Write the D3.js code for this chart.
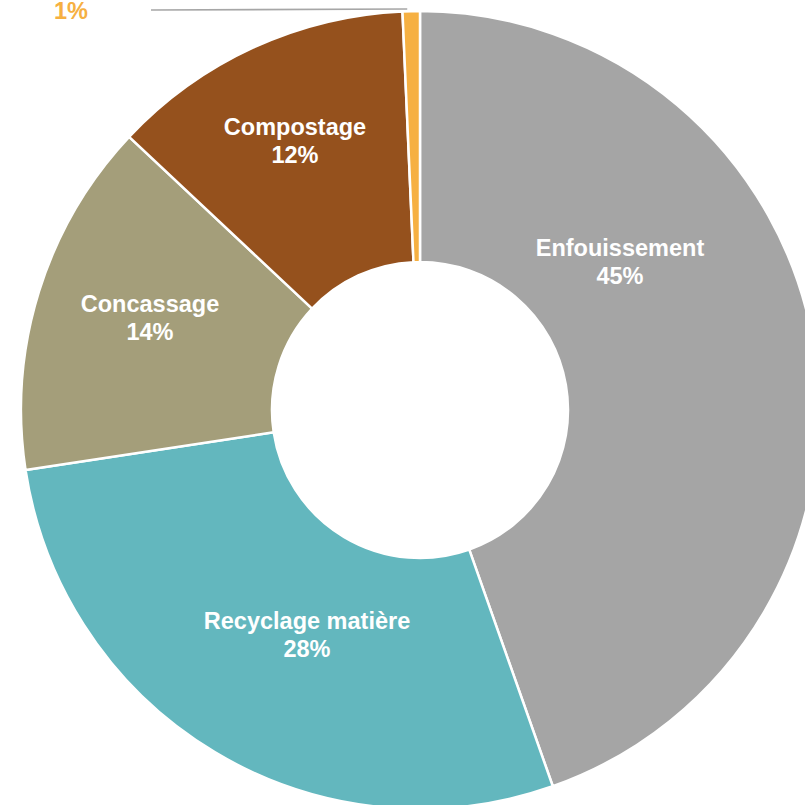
<!DOCTYPE html>
<html>
<head>
<meta charset="utf-8">
<script src="https://cdn.jsdelivr.net/npm/d3@7/dist/d3.min.js"></script>
<style>
  html, body { margin: 0; padding: 0; background: #ffffff; }
  svg { display: block; }
  text { font-family: "Liberation Sans", Arial, sans-serif; font-weight: bold; }
</style>
</head>
<body>
<svg id="chart" width="805" height="805"></svg>
<script>
// ---- data ----
const categories = ["Enfouissement", "Recyclage matière", "Concassage", "Compostage", "Autre"];
const labels = ["Enfouissement", "Recyclage matière", "Concassage", "Compostage", ""];
const values = [44.6, 28.0, 14.4, 12.3, 0.7];
const percentLabels = ["45%", "28%", "14%", "12%", "1%"];
const colors = ["#A5A5A5", "#63B7BE", "#A49E7A", "#95511D", "#F6B042"];

// ---- layout ----
const width = 805, height = 805;
const cx = 420, cy = 410;
const outerR = 399, innerR = 148;
// label anchor (centre x, first baseline y) relative to the chart centre
const labelOffsets = [[200, -154], [-113, 219], [-270, -98], [-125, -275], [-349, -391]];
const lineGap = 27.5;

const svg = d3.select("#chart");
const g = svg.append("g").attr("transform", `translate(${cx},${cy})`);

const pie = d3.pie().sort(null).value(d => d)(values);
const arc = d3.arc().innerRadius(innerR).outerRadius(outerR);

g.selectAll("path.slice")
  .data(pie)
  .join("path")
  .attr("class", "slice")
  .attr("d", arc)
  .attr("fill", (d, i) => colors[i])
  .attr("stroke", "#ffffff")
  .attr("stroke-width", 2.5)
  .attr("stroke-linejoin", "round");

// labels
pie.forEach((d, i) => {
  const [ox, oy] = labelOffsets[i];
  const t = g.append("text")
    .attr("text-anchor", "middle")
    .attr("font-size", 23.5)
    .attr("fill", i === 4 ? "#F6B042" : "#ffffff");
  if (labels[i]) {
    t.append("tspan").attr("x", ox).attr("y", oy).text(labels[i]);
    t.append("tspan").attr("x", ox).attr("y", oy + lineGap).text(percentLabels[i]);
  } else {
    t.append("tspan").attr("x", ox).attr("y", oy).text(percentLabels[i]);
  }
});

// leader line for the tiny slice
const small = pie[4];
const midA = (small.startAngle + small.endAngle) / 2;
const px = outerR * Math.sin(midA) - 4;
g.append("polyline")
  .attr("points", `${-269},${-400} ${px},${-401}`)
  .attr("fill", "none")
  .attr("stroke", "#A6A6A6")
  .attr("stroke-width", 1.6);
</script>
</body>
</html>
